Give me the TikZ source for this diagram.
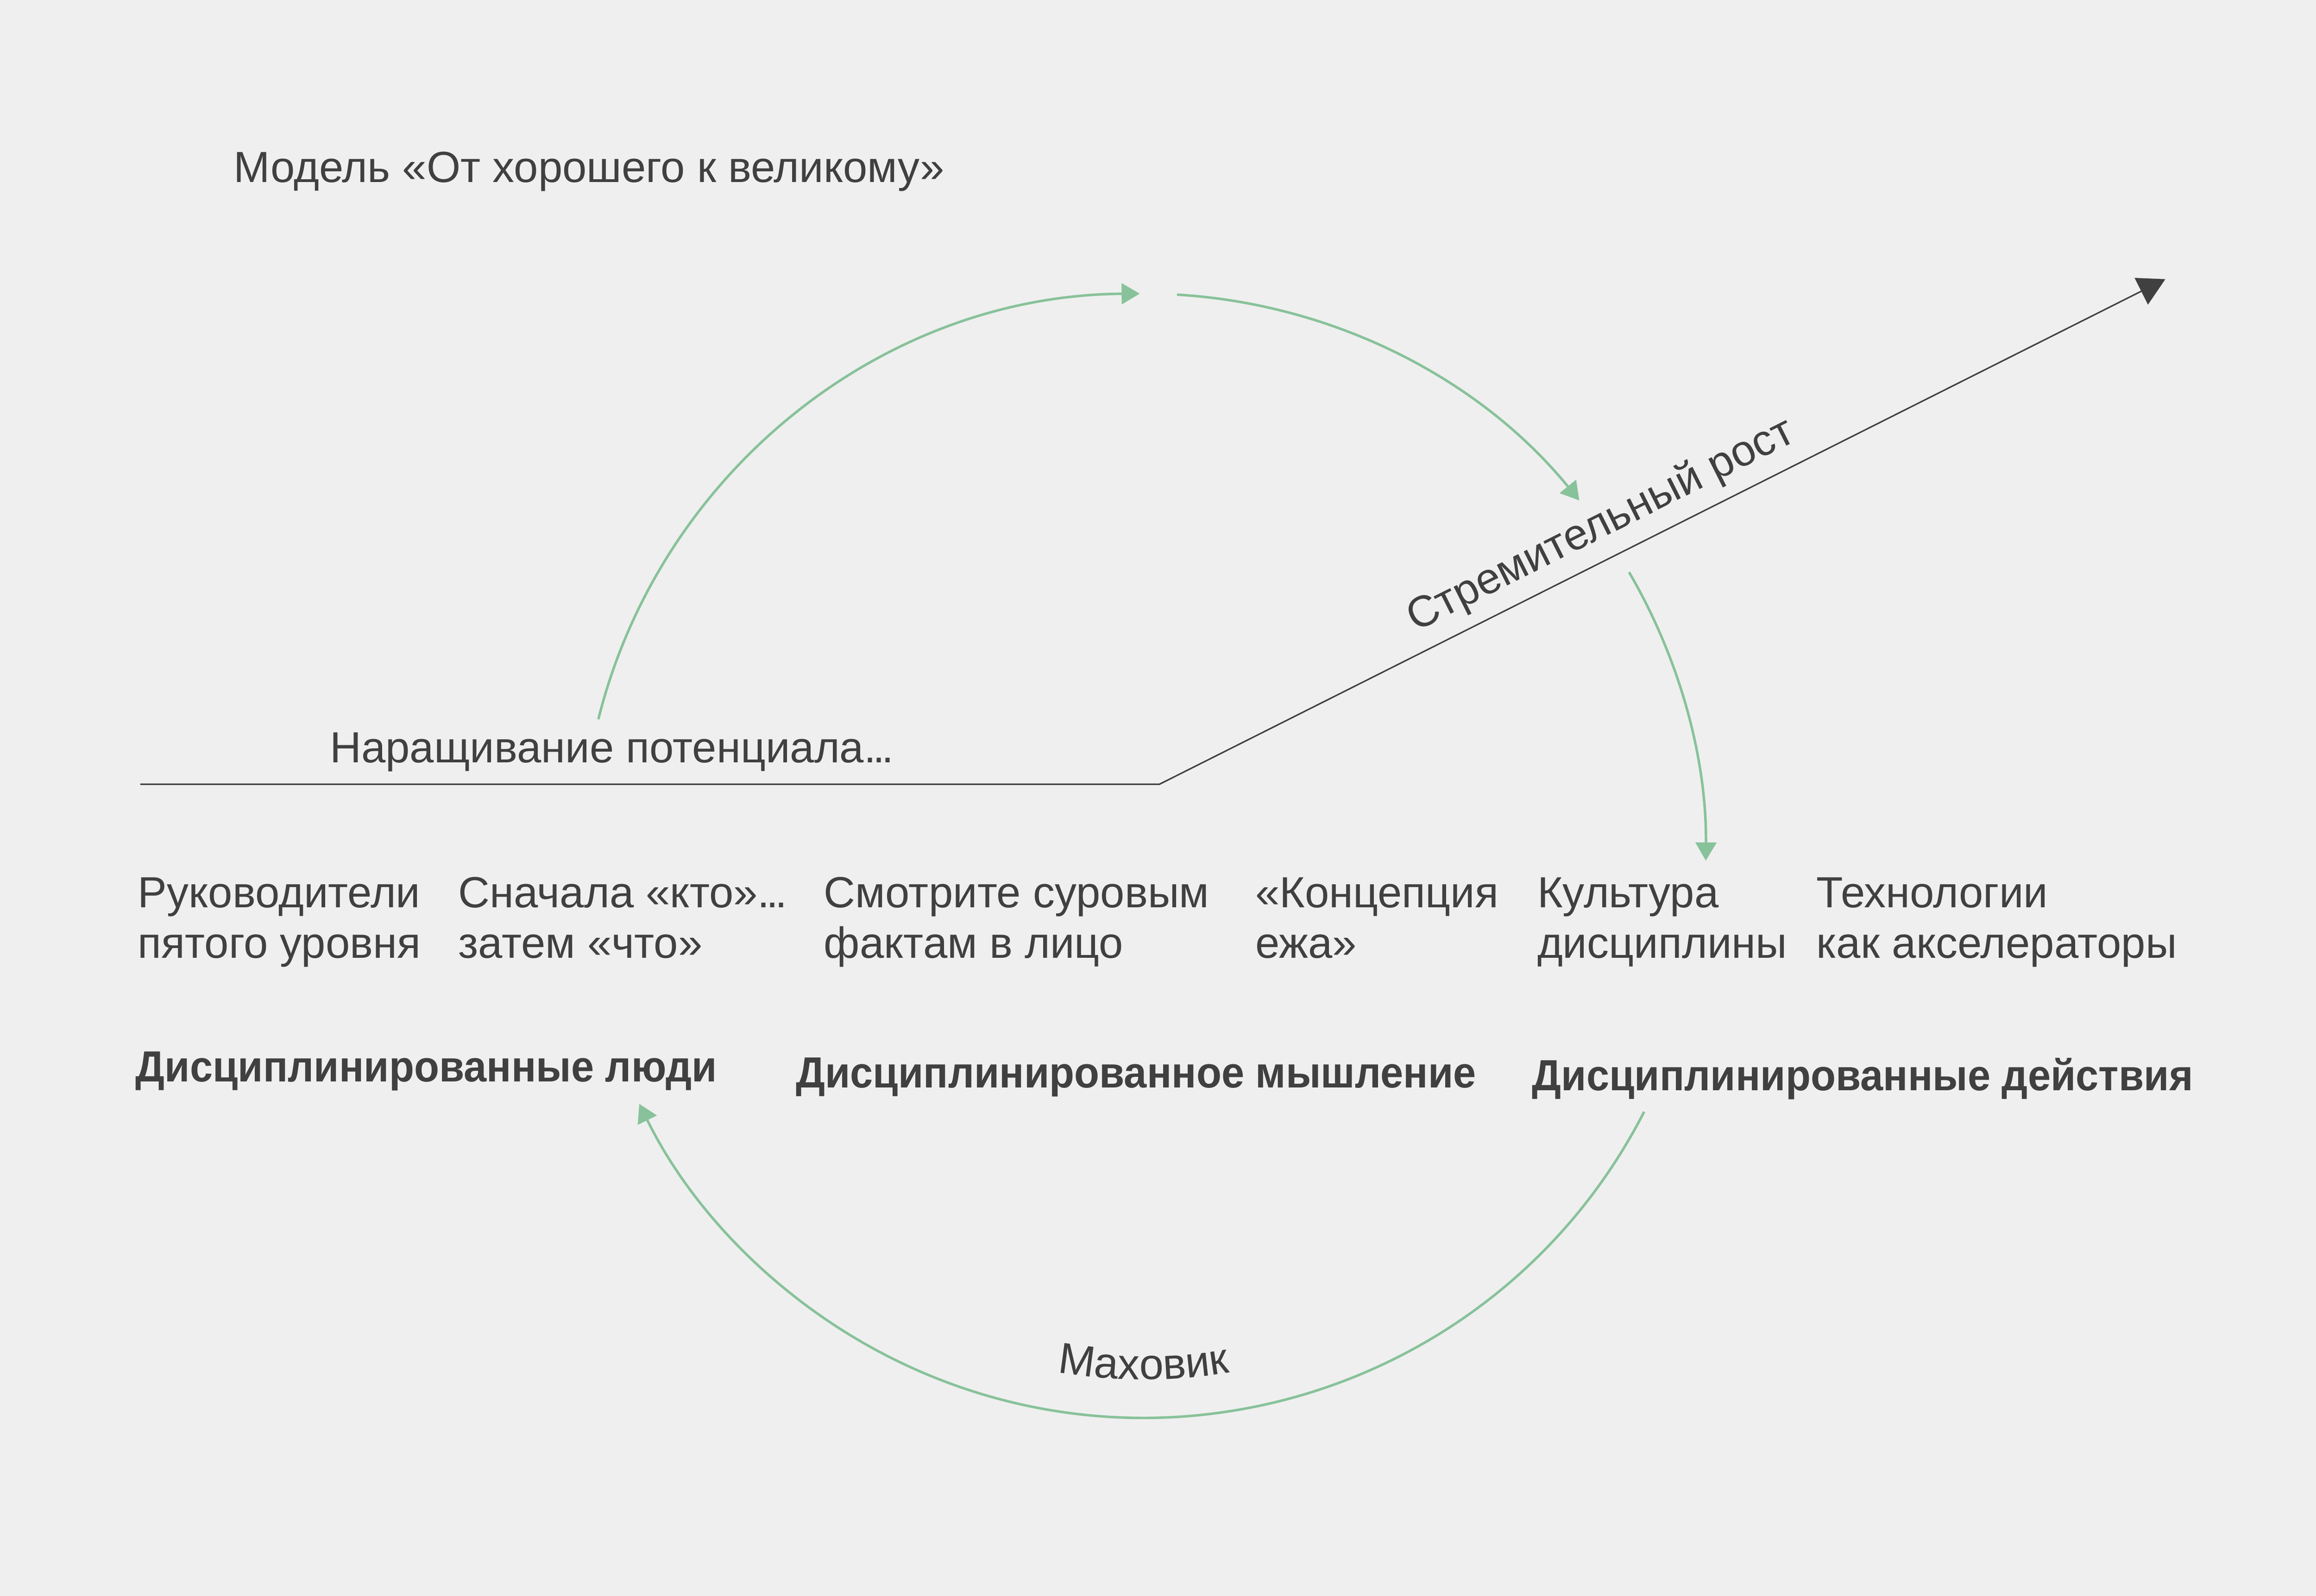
\documentclass[tikz,border=0pt]{standalone}
\usepackage{fontspec}
\setmainfont{Liberation Sans}[BoldFeatures={FakeStretch=0.94}]
\usetikzlibrary{positioning}
\usetikzlibrary{calc}
\usetikzlibrary{arrows.meta,decorations.text}

\definecolor{ink}{HTML}{404040}
\definecolor{leaf}{HTML}{88C29A}
\definecolor{paper}{HTML}{EFEFEF}
\newcommand\threedots{.\kern-1.3pt.\kern-1.3pt.}

\begin{document}
\begin{tikzpicture}[x=0.02cm,y=0.02cm,
  txt/.style={font=\fontsize{16.8}{19.5}\selectfont,text=ink,inner sep=0pt,anchor=base west,align=left},
  hdr/.style={txt,font=\fontsize{16.8}{19.5}\selectfont\bfseries},
  loop/.style={draw=leaf,line width=0.97pt,-{Triangle[length=7pt,width=8pt]}},
  rise/.style={draw=ink,line width=0.57pt,-{Triangle[length=10.4pt,width=11.4pt]}}]
\fill[paper](0,0) rectangle (1568,-1080.6);
\useasboundingbox(0,0) rectangle (1568,-1080.6);

\node[txt](title) at (158,-123.5){Модель «От хорошего к великому»};
\node[txt](build) at (223,-516.3){Наращивание потенциала\threedots};
\node[txt,anchor=base,rotate=26.66](growth) at (1087.5,-363){Стремительный рост};

% two-line texts: the base anchor sits on the second line
\node[txt](lead) at (93,-648.8){Руководители\\пятого уровня};
\node[txt](who) at (310,-648.8){Сначала «кто»\threedots\\затем «что»};
\node[txt](facts) at (557.5,-648.8){Смотрите суровым\\фактам в лицо};
\node[txt](hedgehog) at (849.5,-648.8){«Концепция\\ежа»};
\node[txt](culture) at (1040.5,-648.8){Культура\\дисциплины};
\node[txt](tech) at (1229.5,-648.8){Технологии\\как акселераторы};

\node[hdr](people) at (91.5,-732.5){Дисциплинированные люди};
\node[hdr](thinking) at (538.5,-736.4){Дисциплинированное мышление};
\node[hdr](action) at (1037,-738.4){Дисциплинированные действия};

\coordinate(flatL) at (95,-531);
\coordinate(bend) at (785,-531);
\coordinate(tip) at (1466,-189);
\coordinate(hub) at (774.3,-579.4);

\draw[rise](flatL)--(bend)--(tip);

\draw[loop]($(hub)+(165.95:380.6)$) arc[start angle=165.95,end angle=90.4,radius=380.6];
\draw[loop]($(hub)+(86.6:380.6)$) arc[start angle=86.6,end angle=39.2,radius=380.6];
\draw[loop]($(hub)+(30.3:380.6)$) arc[start angle=30.3,end angle=-0.5,radius=380.6];
\draw[loop]($(hub)+(-27.1:380.6)$) arc[start angle=-27.1,end angle=-153.8,radius=380.6];

\path[decorate,decoration={text along path,text align=center,text color=ink,
  text={|\fontsize{16.8}{19.5}\selectfont|Маховик}}]
  ($(hub)+(200:354.6)$) arc[start angle=200,end angle=340,radius=354.6];
\end{tikzpicture}
\end{document}
